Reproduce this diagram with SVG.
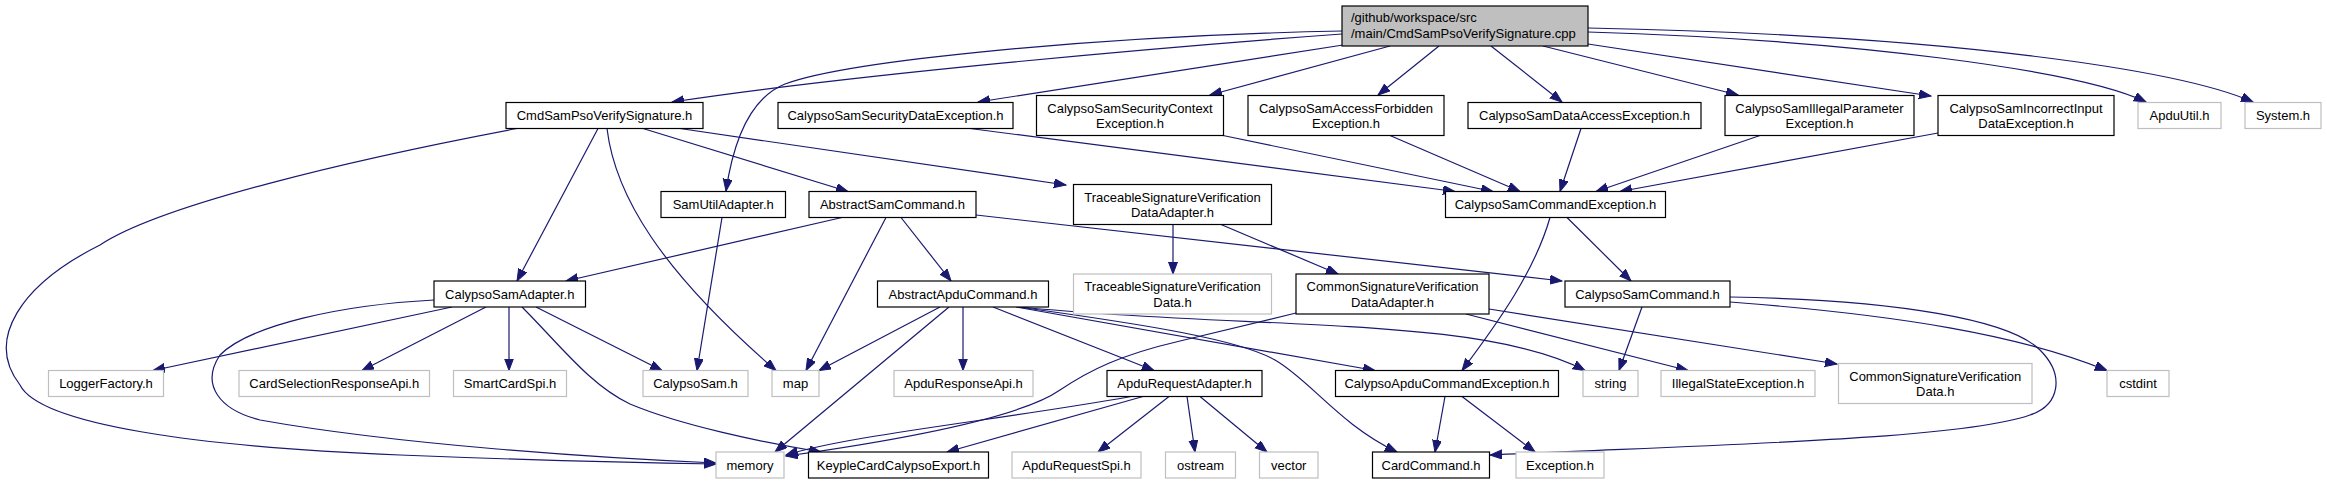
<svg xmlns="http://www.w3.org/2000/svg" width="2327" height="484" viewBox="0 0 2327 484">
<style>
.n rect{fill:#fff;stroke:#000;stroke-width:1.2}
.g rect{fill:#fff;stroke:#bfbfbf;stroke-width:1.2}
.r rect{fill:#bfbfbf;stroke:#000;stroke-width:1.2}
text{font-family:"Liberation Sans",Arial,Helvetica,sans-serif;font-size:13px;fill:#000;text-anchor:middle}
.r text{text-anchor:start}
#edges path{fill:none;stroke:#191970;stroke-width:1.2;marker-end:url(#ah)}
</style>
<defs>
<marker id="ah" markerUnits="userSpaceOnUse" markerWidth="13" markerHeight="10" refX="12" refY="4.5" orient="auto">
<path d="M0,0 L12,4.5 L0,9 Z" fill="#191970" stroke="#191970" stroke-width="1"/>
</marker>
</defs>
<rect width="2327" height="484" fill="#fff"/>
<g id="edges">
<path d="M1342,34 C1150,48 850,75 672,102"/>
<path d="M1342,31 C1100,36 850,60 785,84 C755,96 735,130 726,191"/>
<path d="M1343,45 L978,102"/>
<path d="M1390,46 L1210,95"/>
<path d="M1439,46 L1378,95"/>
<path d="M1491,46 L1562,102"/>
<path d="M1543,46 L1738,95"/>
<path d="M1588,44 L1931,96"/>
<path d="M1588,32 C1850,40 2080,70 2146,102"/>
<path d="M1588,28 C1950,35 2180,70 2253,102"/>
<path d="M517,128.5 C350,160 160,205 100,245 C20,285 -15,340 20,385 C40,425 200,447 400,455 C550,461 650,463 716,464"/>
<path d="M598,128.5 L517,281"/>
<path d="M607,128.5 C615,195 660,270 776,370.5"/>
<path d="M643,128.5 L848,191.5"/>
<path d="M680,128.5 L1066,185"/>
<path d="M970,128.5 L1455,191.5"/>
<path d="M1223,135.5 L1493,191.5"/>
<path d="M1390,135.5 L1520,191.5"/>
<path d="M1581,128.5 L1560,191.5"/>
<path d="M1760,135.5 L1596,191.5"/>
<path d="M1938,133 L1620,191.5"/>
<path d="M722,217.5 L697,370.5"/>
<path d="M842,217.5 L566,281"/>
<path d="M886,217.5 L806,370.5"/>
<path d="M901,217.5 L951,281"/>
<path d="M976,215 L1562,281"/>
<path d="M1173,224.5 L1173,274"/>
<path d="M1221,224.5 L1338,274"/>
<path d="M1550,217.5 C1535,270 1500,320 1462,370.5"/>
<path d="M1567,217.5 L1631,281"/>
<path d="M452,307 L153,370.5"/>
<path d="M486,307 L362,370.5"/>
<path d="M509,307 L509,370.5"/>
<path d="M536,307 L662,370.5"/>
<path d="M522,307 C560,345 590,385 630,404 C680,425 760,442 821,452"/>
<path d="M434,300 C340,305 250,325 220,355 C200,385 220,410 260,420 C400,445 600,458 716,463"/>
<path d="M940,307 L819,370.5"/>
<path d="M949,307 L775,452"/>
<path d="M963,307 L963,370.5"/>
<path d="M993,307 L1154,370.5"/>
<path d="M1016,307 L1375,370.5"/>
<path d="M1020,307 C1250,330 1480,315 1585,370.5"/>
<path d="M1018,307 C1150,325 1240,340 1275,360 C1310,380 1340,425 1397,452"/>
<path d="M1296,313 L1180,341 C1120,355 1090,370 1060,390 C1020,418 900,440 786,456"/>
<path d="M1466,314 L1688,370.5"/>
<path d="M1489,309 L1837,364"/>
<path d="M1642,307 L1619,370.5"/>
<path d="M1730,302 C1900,315 2020,335 2107,370.5"/>
<path d="M1730,297 C1900,300 2010,320 2040,350 C2065,375 2060,405 2030,415 C1960,440 1700,445 1490,455"/>
<path d="M1131,396.5 C1000,420 850,435 786,455"/>
<path d="M1143,396.5 L947,452"/>
<path d="M1169,396.5 L1098,452"/>
<path d="M1187,396.5 L1195,452"/>
<path d="M1200,396.5 L1267,452"/>
<path d="M1445,396.5 L1435,452"/>
<path d="M1462,396.5 L1535,452"/>
</g>
<g id="root" class="r"><rect x="1342" y="6" width="246" height="40"/><text x="1351" y="22">/github/workspace/src</text><text x="1351" y="38">/main/CmdSamPsoVerifySignature.cpp</text></g>
<g id="cmd" class="n"><rect x="506" y="102.5" width="197" height="26"/><text x="604.5" y="120">CmdSamPsoVerifySignature.h</text></g>
<g id="csde" class="n"><rect x="778" y="102.5" width="235" height="26"/><text x="895.5" y="120">CalypsoSamSecurityDataException.h</text></g>
<g id="cssce" class="n"><rect x="1036.5" y="95.5" width="187" height="40"/><text x="1130" y="112.5">CalypsoSamSecurityContext</text><text x="1130" y="128">Exception.h</text></g>
<g id="csafe" class="n"><rect x="1248" y="95.5" width="196" height="40"/><text x="1346" y="112.5">CalypsoSamAccessForbidden</text><text x="1346" y="128">Exception.h</text></g>
<g id="csdae" class="n"><rect x="1468" y="102.5" width="233" height="26"/><text x="1584.5" y="120">CalypsoSamDataAccessException.h</text></g>
<g id="csipe" class="n"><rect x="1725" y="95.5" width="189" height="40"/><text x="1819.5" y="112.5">CalypsoSamIllegalParameter</text><text x="1819.5" y="128">Exception.h</text></g>
<g id="csiide" class="n"><rect x="1938" y="95.5" width="176" height="40"/><text x="2026" y="112.5">CalypsoSamIncorrectInput</text><text x="2026" y="128">DataException.h</text></g>
<g id="apduutil" class="g"><rect x="2138" y="102.5" width="83" height="26"/><text x="2179.5" y="120">ApduUtil.h</text></g>
<g id="system" class="g"><rect x="2245" y="102.5" width="76" height="26"/><text x="2283" y="120">System.h</text></g>
<g id="samutil" class="n"><rect x="661" y="191.5" width="124.5" height="26"/><text x="723.25" y="209">SamUtilAdapter.h</text></g>
<g id="asc" class="n"><rect x="809" y="191.5" width="167" height="26"/><text x="892.5" y="209">AbstractSamCommand.h</text></g>
<g id="tsvda" class="n"><rect x="1073.5" y="184.5" width="198" height="40"/><text x="1172.5" y="201.5">TraceableSignatureVerification</text><text x="1172.5" y="217">DataAdapter.h</text></g>
<g id="csce" class="n"><rect x="1445.5" y="191.5" width="220" height="26"/><text x="1555.5" y="209">CalypsoSamCommandException.h</text></g>
<g id="csa" class="n"><rect x="434" y="281" width="151.5" height="26"/><text x="509.75" y="298.5">CalypsoSamAdapter.h</text></g>
<g id="aac" class="n"><rect x="877.5" y="281" width="171" height="26"/><text x="963" y="298.5">AbstractApduCommand.h</text></g>
<g id="tsvd" class="g"><rect x="1073.5" y="274" width="198" height="40"/><text x="1172.5" y="291">TraceableSignatureVerification</text><text x="1172.5" y="306.5">Data.h</text></g>
<g id="csvda" class="n"><rect x="1296" y="274" width="193" height="40"/><text x="1392.5" y="291">CommonSignatureVerification</text><text x="1392.5" y="306.5">DataAdapter.h</text></g>
<g id="csc" class="n"><rect x="1565" y="281" width="165" height="26"/><text x="1647.5" y="298.5">CalypsoSamCommand.h</text></g>
<g id="logger" class="g"><rect x="48.5" y="370.5" width="115" height="26"/><text x="106" y="388">LoggerFactory.h</text></g>
<g id="cardsel" class="g"><rect x="239" y="370.5" width="190.5" height="26"/><text x="334.25" y="388">CardSelectionResponseApi.h</text></g>
<g id="smartcard" class="g"><rect x="453.5" y="370.5" width="113" height="26"/><text x="510" y="388">SmartCardSpi.h</text></g>
<g id="calypsosam" class="g"><rect x="643" y="370.5" width="105" height="26"/><text x="695.5" y="388">CalypsoSam.h</text></g>
<g id="map" class="g"><rect x="772" y="370.5" width="47" height="26"/><text x="795.5" y="388">map</text></g>
<g id="apduresp" class="g"><rect x="894" y="370.5" width="139" height="26"/><text x="963.5" y="388">ApduResponseApi.h</text></g>
<g id="apdureq" class="n"><rect x="1107" y="370.5" width="155" height="26"/><text x="1184.5" y="388">ApduRequestAdapter.h</text></g>
<g id="capduce" class="n"><rect x="1335.5" y="370.5" width="223" height="26"/><text x="1447" y="388">CalypsoApduCommandException.h</text></g>
<g id="string" class="g"><rect x="1583" y="370.5" width="55" height="26"/><text x="1610.5" y="388">string</text></g>
<g id="illegalstate" class="g"><rect x="1661" y="370.5" width="154" height="26"/><text x="1738" y="388">IllegalStateException.h</text></g>
<g id="csvd" class="g"><rect x="1838.5" y="363.5" width="193.5" height="40"/><text x="1935.25" y="380.5">CommonSignatureVerification</text><text x="1935.25" y="396">Data.h</text></g>
<g id="cstdint" class="g"><rect x="2107" y="370.5" width="62" height="26"/><text x="2138" y="388">cstdint</text></g>
<g id="memory" class="g"><rect x="716" y="452" width="68" height="26"/><text x="750" y="469.5">memory</text></g>
<g id="keyple" class="n"><rect x="808.5" y="452" width="180" height="26"/><text x="898.5" y="469.5">KeypleCardCalypsoExport.h</text></g>
<g id="apdureqspi" class="g"><rect x="1012" y="452" width="129" height="26"/><text x="1076.5" y="469.5">ApduRequestSpi.h</text></g>
<g id="ostream" class="g"><rect x="1165.5" y="452" width="70" height="26"/><text x="1200.5" y="469.5">ostream</text></g>
<g id="vector" class="g"><rect x="1259.5" y="452" width="58.5" height="26"/><text x="1288.75" y="469.5">vector</text></g>
<g id="cardcommand" class="n"><rect x="1372.5" y="452" width="117" height="26"/><text x="1431" y="469.5">CardCommand.h</text></g>
<g id="exception" class="g"><rect x="1516" y="452" width="88" height="26"/><text x="1560" y="469.5">Exception.h</text></g>
</svg>
